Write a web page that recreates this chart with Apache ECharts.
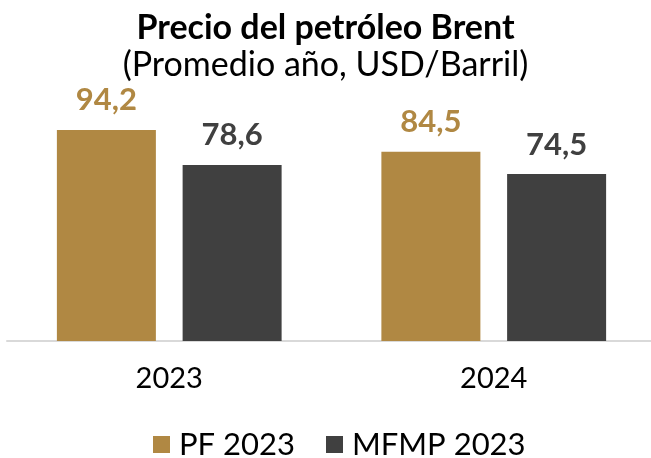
<!DOCTYPE html>
<html>
<head>
<meta charset="utf-8">
<script src="https://cdn.jsdelivr.net/npm/echarts@6/dist/echarts.min.js"></script>
<style>
  html, body { margin: 0; padding: 0; background: #fff; }
  #chart { width: 651px; height: 458px; }
</style>
</head>
<body>
<div id="chart"></div>
<script>
// datos del gráfico
const years = ["2023", "2024"];
const pf2023 = [94.2, 84.5];
const mfmp2023 = [78.6, 74.5];
const seriesNames = ["PF 2023", "MFMP 2023"];

const FONT = "Lato";
const GOLD = "#B08843";
const DARK = "#404040";

const chart = echarts.init(document.getElementById("chart"));

// etiqueta con coma decimal
const fmt = (p) => p.value.toFixed(1).replace(".", ",");

chart.setOption({
  animation: false,
  title: [
    {
      text: "Precio del petróleo Brent",
      left: "center",
      top: 6,
      textStyle: { fontFamily: FONT, fontSize: 34, fontWeight: "bold", color: "#000" }
    },
    {
      text: "(Promedio año, USD/Barril)",
      left: "center",
      top: 43,
      textStyle: { fontFamily: FONT, fontSize: 34, fontWeight: "normal", color: "#000" }
    }
  ],
  legend: {
    data: seriesNames,
    left: 148,
    top: 424,
    icon: "rect",
    itemWidth: 17,
    itemHeight: 17,
    itemGap: 31,
    textStyle: { fontFamily: FONT, fontSize: 31, color: "#000", padding: [0, 0, 0, 4] }
  },
  // el eje sobresale un poco a la derecha, como en el original
  grid: { left: 7, right: -5, top: 117, bottom: 117, outerBoundsMode: "none" },
  xAxis: {
    type: "category",
    data: years,
    axisLine: { lineStyle: { color: "#d9d9d9", width: 2 } },
    axisTick: { show: false },
    axisLabel: { fontFamily: FONT, fontSize: 29, color: "#000", margin: 23 }
  },
  yAxis: {
    type: "value",
    min: 0,
    max: 100,
    show: false,
    splitLine: { show: false }
  },
  series: [
    {
      name: seriesNames[0],
      type: "bar",
      data: pf2023,
      barWidth: 99,
      barGap: "27%",
      itemStyle: { color: GOLD },
      label: {
        show: true,
        position: "top",
        distance: 14,
        formatter: fmt,
        fontFamily: FONT,
        fontSize: 31,
        fontWeight: "bold",
        color: GOLD
      }
    },
    {
      name: seriesNames[1],
      type: "bar",
      data: mfmp2023,
      barWidth: 99,
      barGap: "27%",
      itemStyle: { color: DARK },
      label: {
        show: true,
        position: "top",
        distance: 14,
        formatter: fmt,
        fontFamily: FONT,
        fontSize: 31,
        fontWeight: "bold",
        color: DARK
      }
    }
  ]
});
</script>
</body>
</html>
